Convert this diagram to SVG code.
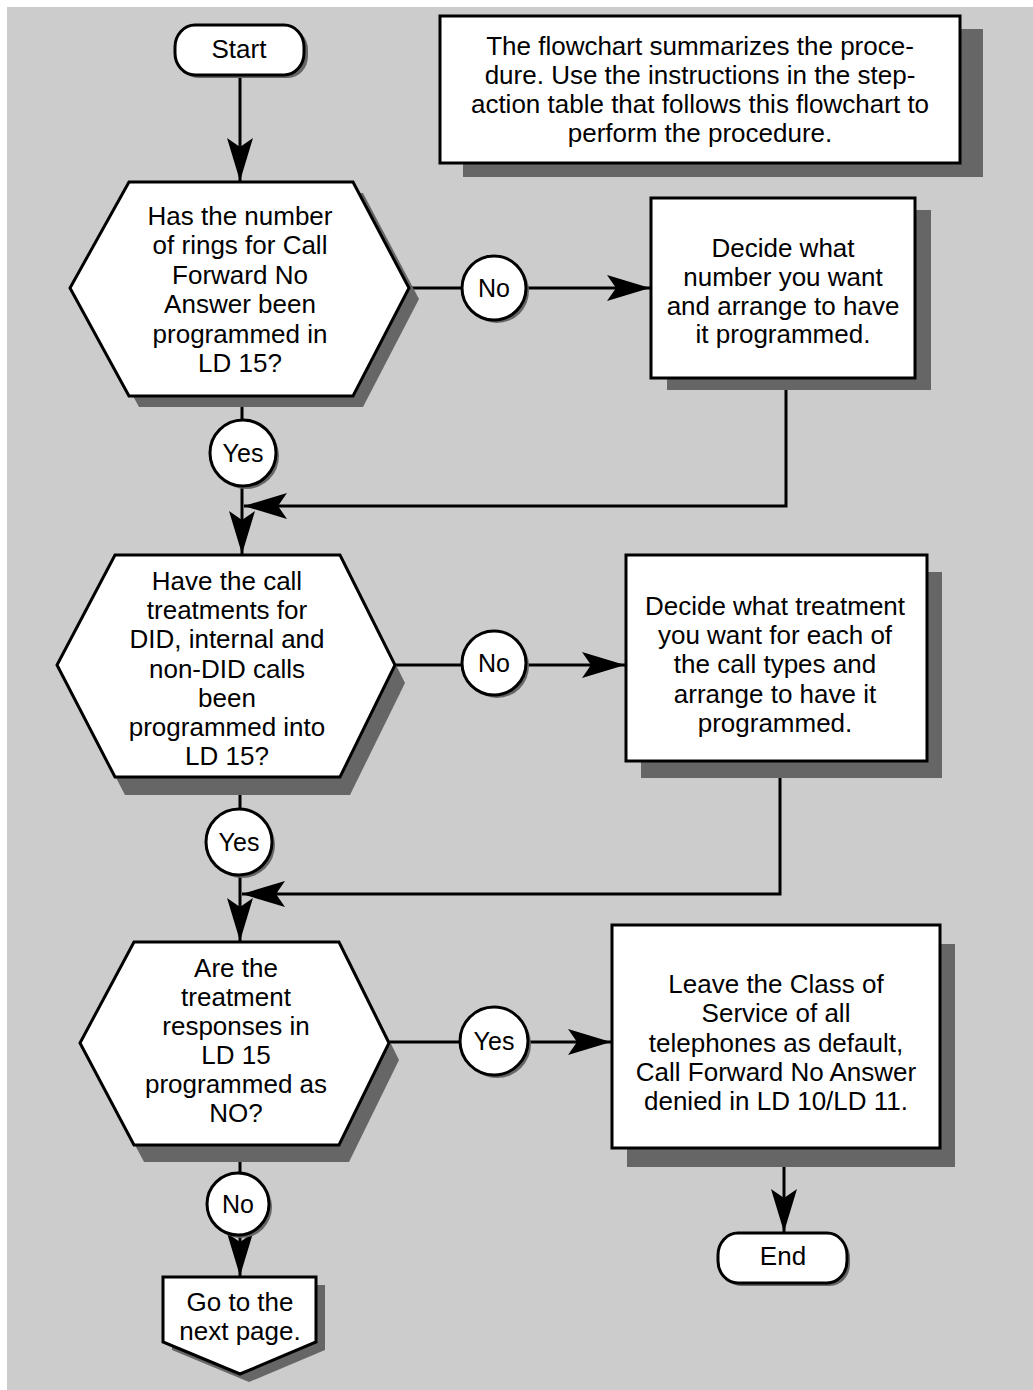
<svg xmlns="http://www.w3.org/2000/svg" width="1033" height="1390" viewBox="0 0 1033 1390">
<style>
.bg{fill:#cccccc}
.sh{fill:#666666;stroke:none}
.nd{fill:#ffffff;stroke:#000000;stroke-width:3}
.ln{fill:none;stroke:#000000;stroke-width:3}
text{font-family:"Liberation Sans",Arial,Helvetica,sans-serif;font-size:26px;fill:#000000;text-anchor:middle}
text.lbl{font-size:25px}
</style>
<defs>
<marker id="ah" markerUnits="userSpaceOnUse" markerWidth="46" markerHeight="30" viewBox="-44 -15 46 30" refX="0" refY="0" orient="auto">
<path d="M0,0 L-43,-13 L-34,0 L-43,13 Z" fill="#000000"/>
</marker>
</defs>
<rect class="bg" x="7" y="7" width="1026" height="1383"/>

<g id="connectors">
<line class="ln" x1="240" y1="75" x2="240" y2="181" marker-end="url(#ah)"/>
<line class="ln" x1="409" y1="288" x2="462" y2="288"/>
<line class="ln" x1="526" y1="288" x2="650" y2="288" marker-end="url(#ah)"/>
<line class="ln" x1="242" y1="396" x2="242" y2="420"/>
<line class="ln" x1="242" y1="487" x2="242" y2="554" marker-end="url(#ah)"/>
<polyline class="ln" points="786,378 786,506 244,506" marker-end="url(#ah)"/>
<line class="ln" x1="395" y1="665" x2="462" y2="665"/>
<line class="ln" x1="526" y1="665" x2="625" y2="665" marker-end="url(#ah)"/>
<line class="ln" x1="240" y1="777" x2="240" y2="810"/>
<line class="ln" x1="240" y1="875" x2="240" y2="941" marker-end="url(#ah)"/>
<polyline class="ln" points="780,761 780,894 242,894" marker-end="url(#ah)"/>
<line class="ln" x1="389" y1="1042" x2="460" y2="1042"/>
<line class="ln" x1="528" y1="1042" x2="611" y2="1042" marker-end="url(#ah)"/>
<line class="ln" x1="784" y1="1148" x2="784" y2="1232" marker-end="url(#ah)"/>
<line class="ln" x1="240" y1="1145" x2="240" y2="1173"/>
<line class="ln" x1="240" y1="1235" x2="240" y2="1276" marker-end="url(#ah)"/>
</g>

<g id="note">
<rect class="sh" x="463" y="29" width="520" height="148"/>
<rect class="nd" x="440" y="16" width="520" height="147"/>
<text x="700" y="55">The flowchart summarizes the proce-</text>
<text x="700" y="84">dure. Use the instructions in the step-</text>
<text x="700" y="113">action table that follows this flowchart to</text>
<text x="700" y="142">perform the procedure.</text>
</g>

<g id="start">
<rect class="sh" x="178" y="28" width="130" height="50" rx="20" ry="22"/>
<rect class="nd" x="175" y="25" width="129" height="50" rx="20" ry="22"/>
<text x="239" y="58">Start</text>
</g>

<g id="decision1">
<polygon class="sh" points="139,193 363,193 419,299 363,407 139,407 80,299"/>
<polygon class="nd" points="129,182 353,182 409,288 353,396 129,396 70,288"/>
<text x="240" y="225">Has the number</text>
<text x="240" y="254">of rings for Call</text>
<text x="240" y="284">Forward No</text>
<text x="240" y="313">Answer been</text>
<text x="240" y="343">programmed in</text>
<text x="240" y="372">LD 15?</text>
</g>

<g id="no1">
<circle class="sh" cx="497" cy="291" r="32"/>
<circle class="nd" cx="494" cy="288" r="32"/>
<text class="lbl" x="494" y="297">No</text>
</g>

<g id="action1">
<rect class="sh" x="667" y="210" width="264" height="180"/>
<rect class="nd" x="651" y="198" width="264" height="180"/>
<text x="783" y="257">Decide what</text>
<text x="783" y="286">number you want</text>
<text x="783" y="315">and arrange to have</text>
<text x="783" y="343">it programmed.</text>
</g>

<g id="yes1">
<circle class="sh" cx="246" cy="456" r="33"/>
<circle class="nd" cx="243" cy="453" r="33"/>
<text class="lbl" x="243" y="462">Yes</text>
</g>

<g id="decision2">
<polygon class="sh" points="125,573 350,573 405,683 350,795 125,795 67,683"/>
<polygon class="nd" points="115,555 340,555 395,665 340,777 115,777 57,665"/>
<text x="227" y="590">Have the call</text>
<text x="227" y="619">treatments for</text>
<text x="227" y="648">DID, internal and</text>
<text x="227" y="678">non-DID calls</text>
<text x="227" y="707">been</text>
<text x="227" y="736">programmed into</text>
<text x="227" y="765">LD 15?</text>
</g>

<g id="no2">
<circle class="sh" cx="497" cy="666" r="32"/>
<circle class="nd" cx="494" cy="663" r="32"/>
<text class="lbl" x="494" y="672">No</text>
</g>

<g id="action2">
<rect class="sh" x="641" y="572" width="301" height="206"/>
<rect class="nd" x="626" y="555" width="301" height="206"/>
<text x="775" y="615">Decide what treatment</text>
<text x="775" y="644">you want for each of</text>
<text x="775" y="673">the call types and</text>
<text x="775" y="703">arrange to have it</text>
<text x="775" y="732">programmed.</text>
</g>

<g id="yes2">
<circle class="sh" cx="242" cy="845" r="33"/>
<circle class="nd" cx="239" cy="842" r="33"/>
<text class="lbl" x="239" y="851">Yes</text>
</g>

<g id="decision3">
<polygon class="sh" points="144,959 349,959 399,1060 349,1162 144,1162 90,1060"/>
<polygon class="nd" points="134,942 339,942 389,1043 339,1145 134,1145 80,1043"/>
<text x="236" y="977">Are the</text>
<text x="236" y="1006">treatment</text>
<text x="236" y="1035">responses in</text>
<text x="236" y="1064">LD 15</text>
<text x="236" y="1093">programmed as</text>
<text x="236" y="1122">NO?</text>
</g>

<g id="yes3">
<circle class="sh" cx="497" cy="1044" r="34"/>
<circle class="nd" cx="494" cy="1041" r="34"/>
<text class="lbl" x="494" y="1050">Yes</text>
</g>

<g id="action3">
<rect class="sh" x="627" y="944" width="328" height="223"/>
<rect class="nd" x="612" y="925" width="328" height="223"/>
<text x="776" y="993">Leave the Class of</text>
<text x="776" y="1022">Service of all</text>
<text x="776" y="1052">telephones as default,</text>
<text x="776" y="1081">Call Forward No Answer</text>
<text x="776" y="1110">denied in LD 10/LD 11.</text>
</g>

<g id="end">
<rect class="sh" x="721" y="1236" width="129" height="50" rx="20" ry="22"/>
<rect class="nd" x="718" y="1233" width="129" height="50" rx="20" ry="22"/>
<text x="783" y="1265">End</text>
</g>

<g id="no3">
<circle class="sh" cx="241" cy="1207" r="31"/>
<circle class="nd" cx="238" cy="1204" r="31"/>
<text class="lbl" x="238" y="1213">No</text>
</g>

<g id="offpage">
<polygon class="sh" points="172,1285 325,1285 325,1350 249,1382 172,1350"/>
<polygon class="nd" points="163,1277 316,1277 316,1342 240,1374 163,1342"/>
<text x="240" y="1311">Go to the</text>
<text x="240" y="1340">next page.</text>
</g>
</svg>
